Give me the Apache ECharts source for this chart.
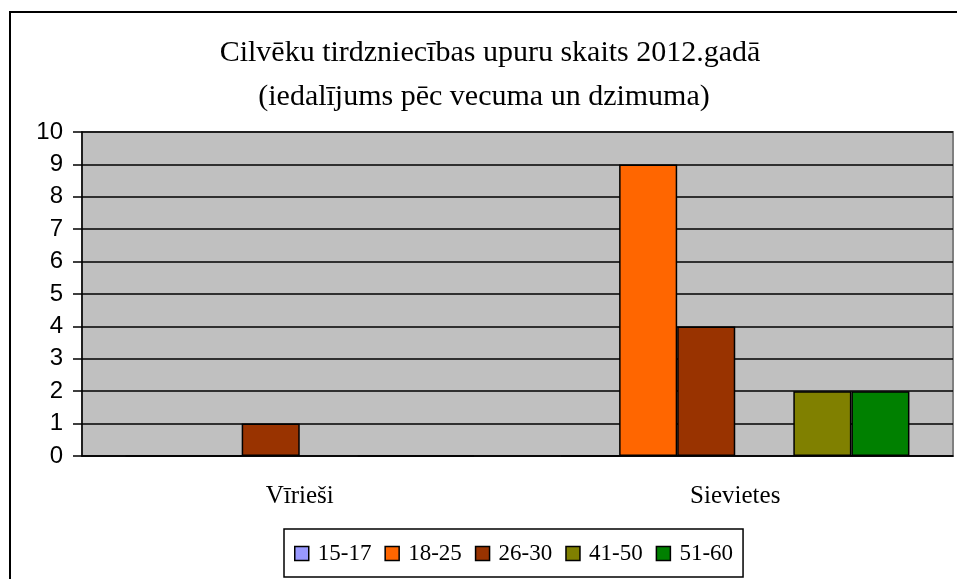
<!DOCTYPE html>
<html>
<head>
<meta charset="utf-8">
<script src="https://cdn.jsdelivr.net/npm/echarts@6/dist/echarts.min.js"></script>
<style>
  html, body { margin: 0; padding: 0; background: #fff; }
  #chart { width: 957px; height: 579px; }
</style>
</head>
<body>
<div id="chart"></div>
<script>
// data
const categories = ['Vīrieši', 'Sievietes']
const age15_17 = [0, 0]
const age18_25 = [0, 9]
const age26_30 = [1, 4]
const age31_40 = [null, null] // empty slot in the original, not in legend
const age41_50 = [0, 2]
const age51_60 = [0, 2]
const yTicks = [0, 10, 1] // min, max, step

const titleLine1 = 'Cilvēku tirdzniecības upuru skaits 2012.gadā'
const titleLine2 = '(iedalījums pēc vecuma un dzimuma)'

const serif = "'Liberation Serif', 'Times New Roman', serif"
const sans = "'Liberation Sans', Arial, sans-serif"

const bar = (name, data, color) => ({
  name,
  type: 'bar',
  data,
  barGap: 0,
  barCategoryGap: '20%',
  itemStyle: { color, borderColor: '#000', borderWidth: 1.5 }
})

echarts.init(document.getElementById('chart')).setOption({
  backgroundColor: '#fff',
  animation: false,
  graphic: [
    { type: 'rect', shape: { x: 10, y: 12, width: 1000, height: 700 }, style: { fill: 'none', stroke: '#000', lineWidth: 2 }, z: 100 },
    { type: 'text', x: 490, y: 38, style: { text: titleLine1, font: '30px ' + serif, fill: '#000', textAlign: 'center' } },
    { type: 'text', x: 484, y: 82, style: { text: titleLine2, font: '30px ' + serif, fill: '#000', textAlign: 'center' } }
  ],
  legend: {
    data: ['15-17', '18-25', '26-30', '41-50', '51-60'],
    left: 284,
    top: 529,
    padding: [13, 10, 12, 10],
    borderColor: '#000',
    borderWidth: 1.5,
    itemWidth: 14,
    itemHeight: 14,
    itemGap: 13,
    icon: 'rect',
    itemStyle: { borderColor: '#000', borderWidth: 1.5 },
    textStyle: { fontFamily: serif, fontSize: 23, color: '#000', padding: [0, 0, 0, 4] }
  },
  grid: {
    left: 82, right: 4, top: 132, bottom: 123,
    show: true,
    backgroundColor: '#c0c0c0',
    borderColor: '#808080',
    borderWidth: 2
  },
  xAxis: {
    type: 'category',
    data: categories,
    axisLine: { lineStyle: { color: '#000', width: 1.5 } },
    axisTick: { length: 9, lineStyle: { color: '#000', width: 1.5 } },
    axisLabel: { color: '#000', fontFamily: serif, fontSize: 25, margin: 28 }
  },
  yAxis: {
    type: 'value',
    min: yTicks[0],
    max: yTicks[1],
    interval: yTicks[2],
    axisLine: { show: true, lineStyle: { color: '#000', width: 1.5 } },
    axisTick: { show: true, length: 9, lineStyle: { color: '#000', width: 1.5 } },
    axisLabel: { color: '#000', fontFamily: sans, fontSize: 24, margin: 19 },
    splitLine: { lineStyle: { color: '#000', width: 1.5 } }
  },
  series: [
    bar('15-17', age15_17, '#9999ff'),
    bar('18-25', age18_25, '#ff6600'),
    bar('26-30', age26_30, '#993300'),
    bar('31-40', age31_40, '#ffffcc'),
    bar('41-50', age41_50, '#808000'),
    bar('51-60', age51_60, '#008000')
  ]
})
</script>
</body>
</html>
